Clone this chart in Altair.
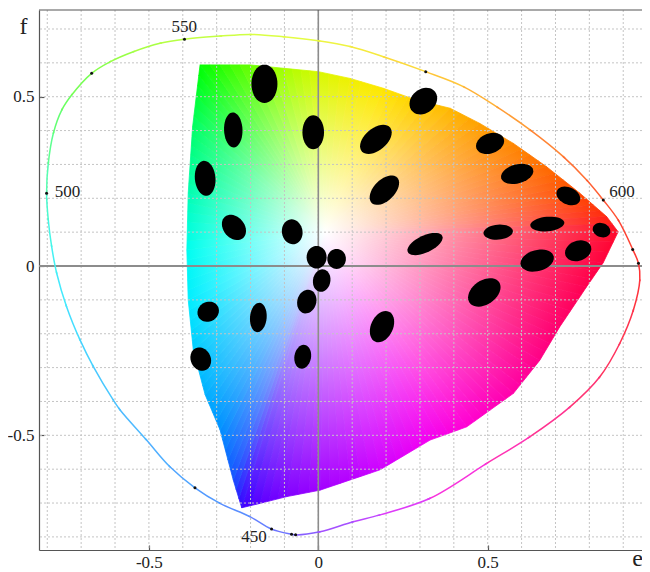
import math
import altair as alt
import pandas as pd

# ---------------- data ----------------
# colour-gamut boundary in the (e, f) plane, with the edge colour at each point
gam_e = [-0.349, -0.202, -0.103, 0.000, 0.094, 0.192, 0.290, 0.389, 0.477, 0.576,
         0.674, 0.772, 0.851, 0.885, 0.841, 0.792, 0.713, 0.654, 0.576, 0.438,
         0.330, 0.182, 0.005, -0.093, -0.172, -0.226, -0.251, -0.290, -0.334, -0.369,
         -0.384, -0.388, -0.384, -0.371]
gam_f = [0.594, 0.594, 0.584, 0.574, 0.554, 0.525, 0.490, 0.466, 0.421, 0.362,
         0.293, 0.215, 0.146, 0.101, 0.010, -0.061, -0.179, -0.278, -0.376, -0.475,
         -0.514, -0.602, -0.662, -0.681, -0.701, -0.714, -0.632, -0.484, -0.380, -0.248,
         -0.100, 0.047, 0.215, 0.411]
gam_col = ["#00ff00", "#66ff00", "#a8ff00", "#d8f800", "#f0f000", "#ffe600", "#ffd000",
           "#ffb800", "#ffa000", "#ff8800", "#ff6c00", "#ff4c00", "#ff2a10", "#ff0a2a",
           "#ff0040", "#ff0050", "#ff006c", "#ff0088", "#ff00a8", "#ff00d4", "#f400f0",
           "#d000ff", "#a000ff", "#8000ff", "#5c00ff", "#3a00ff", "#1650ff", "#0090ff",
           "#00b0ff", "#00ccff", "#00eeff", "#00fff0", "#00ffb4", "#00ff66"]
white_e, white_f = 0.02, 0.10

# spectral locus (closed by the line of purples)
loc_e = [0.005, -0.067, -0.079, -0.138, -0.202, -0.290, -0.364, -0.438, -0.507, -0.585,
         -0.605, -0.664, -0.703, -0.743, -0.772, -0.787, -0.797, -0.802, -0.797, -0.782,
         -0.757, -0.728, -0.669, -0.615, -0.546, -0.467, -0.395, -0.290, -0.202, -0.103,
         0.000, 0.094, 0.192, 0.317, 0.428, 0.527, 0.625, 0.723, 0.792, 0.841,
         0.885, 0.928, 0.945, 0.949, 0.930, 0.890, 0.831, 0.743, 0.625, 0.497,
         0.330, 0.182, 0.103]
loc_f = [-0.785, -0.794, -0.792, -0.777, -0.740, -0.701, -0.655, -0.593, -0.514, -0.425,
         -0.396, -0.297, -0.219, -0.120, -0.022, 0.057, 0.136, 0.215, 0.303, 0.392,
         0.461, 0.505, 0.569, 0.603, 0.633, 0.658, 0.670, 0.679, 0.684, 0.677,
         0.665, 0.648, 0.618, 0.574, 0.530, 0.470, 0.402, 0.323, 0.254, 0.195,
         0.136, 0.049, 0.008, -0.041, -0.130, -0.228, -0.327, -0.416, -0.504, -0.583,
         -0.686, -0.735, -0.755]
loc_col = ["#9955ff", "#7766ff", "#7070ff", "#6a78ff", "#6088ff", "#5595ff", "#50a0ff", "#50aaff",
           "#50b4ff", "#4cc0ff", "#4ac4ff", "#48ccff", "#44d8ff", "#44e4ff", "#44eef8", "#44f4ee",
           "#44f8dd", "#50fcc0", "#5cffa0", "#60ff80", "#66ff66", "#70ff5a", "#80ff50", "#90ff48",
           "#a0ff44", "#b0ff44", "#bbff44", "#c8ff44", "#d4ff44", "#e0ff44", "#eaf844", "#f2f040",
           "#f8e43c", "#ffd03a", "#ffbb38", "#ffa836", "#ff9034", "#ff7833", "#ff6633", "#ff5833",
           "#ff4a33", "#ff3c33", "#ff3333", "#ff3338", "#ff3345", "#ff3355", "#ff3366", "#ff3380",
           "#ff33a0", "#ff33c8", "#f033f0", "#cc44ff", "#b04cff"]

dot_e = [-0.067, -0.079, -0.138, -0.364, -0.802, -0.669, -0.395, 0.317, 0.841, 0.928, 0.945]
dot_f = [-0.794, -0.792, -0.777, -0.655, 0.215, 0.569, 0.670, 0.574, 0.195, 0.049, 0.008]

lab_text = ["450", "500", "550", "600"]
lab_e = [-0.190, -0.740, -0.396, 0.896]
lab_f = [-0.800, 0.218, 0.706, 0.218]

# ellipses: centre, semi-axes (data units), orientation (deg, clockwise on screen)
ell_e = [-0.159, -0.251, -0.015, -0.334, -0.249, -0.077, -0.005, 0.054, 0.010, 0.170,
         0.195, 0.315, 0.310, 0.507, 0.587, 0.738, 0.676, 0.836, 0.531, 0.767,
         0.646, 0.490, -0.325, -0.177, -0.034, 0.188, -0.347, -0.046]
ell_f = [0.538, 0.402, 0.395, 0.259, 0.114, 0.101, 0.026, 0.021, -0.043, 0.374,
         0.224, 0.065, 0.487, 0.362, 0.272, 0.207, 0.124, 0.106, 0.100, 0.045,
         0.016, -0.078, -0.135, -0.152, -0.105, -0.179, -0.275, -0.268]
ell_a = [0.0567, 0.0517, 0.0502, 0.0517, 0.0413, 0.0369, 0.0334, 0.0295, 0.0334, 0.0546,
         0.0531, 0.0561, 0.0443, 0.0428, 0.0487, 0.0369, 0.0502, 0.0266, 0.0434, 0.0398,
         0.0502, 0.0531, 0.0325, 0.0434, 0.0354, 0.0487, 0.0354, 0.0354]
ell_b = [0.0384, 0.0272, 0.0319, 0.0304, 0.0310, 0.0304, 0.0295, 0.0274, 0.0257, 0.0325,
         0.0310, 0.0251, 0.0354, 0.0295, 0.0280, 0.0251, 0.0215, 0.0207, 0.0221, 0.0295,
         0.0310, 0.0354, 0.0289, 0.0245, 0.0280, 0.0325, 0.0295, 0.0245]
ell_ang = [90, 88, 90, 85, 50, 80, 90, 90, 100, 140,
           135, 155, 140, 160, 165, 25, 175, 20, 175, 160,
           165, 145, 150, 95, 105, 115, 65, 100]

grid_e = [-0.8, -0.7, -0.6, -0.5, -0.4, -0.3, -0.2, -0.1, 0.0, 0.1, 0.2, 0.3, 0.4, 0.5, 0.6, 0.7, 0.8, 0.9]
grid_f = [-0.8, -0.7, -0.6, -0.5, -0.4, -0.3, -0.2, -0.1, 0.0, 0.1, 0.2, 0.3, 0.4, 0.5, 0.6, 0.7]
tick_vals = [-0.5, 0, 0.5]
tick_labs = ["-0.5", "0", "0.5"]

# ---------------- layout ----------------
W, H = 603, 540
E_DOM = [-0.8244, 0.9554]
F_DOM = [-0.8387, 0.7561]
SX = W / (E_DOM[1] - E_DOM[0])
SY = H / (F_DOM[1] - F_DOM[0])
xs = alt.Scale(domain=E_DOM, nice=False, zero=False)
ys = alt.Scale(domain=F_DOM, nice=False, zero=False)
SERIF = "Liberation Serif"

label_expr = " : ".join(
    f"datum.value == {v} ? '{t}'" for v, t in zip(tick_vals, tick_labs)) + " : ''"

xaxis = alt.Axis(values=tick_vals, grid=False, domainColor="#555", domainWidth=1.2,
                 tickColor="#555", tickWidth=1.2, tickSize=alt.ExprRef(expr="-5"),
                 labelPadding=9, labelFont=SERIF, labelFontSize=17, labelColor="#222",
                 labelExpr=label_expr, labelFlush=False,
                 title="e", titleFont=SERIF, titleFontSize=24, titleFontWeight="normal",
                 titleColor="#222", titleX=598, titleY=15, titleAlign="center",
                 titleBaseline="alphabetic", titleAngle=0)
yaxis = alt.Axis(values=tick_vals, grid=False, domainColor="#555", domainWidth=1.2,
                 tickColor="#555", tickWidth=1.2, tickSize=alt.ExprRef(expr="-5"),
                 labelPadding=10, labelFont=SERIF, labelFontSize=17, labelColor="#222",
                 labelExpr=label_expr,
                 title="f", titleFont=SERIF, titleFontSize=24, titleFontWeight="normal",
                 titleColor="#222", titleX=-16, titleY=23, titleAlign="center",
                 titleBaseline="alphabetic", titleAngle=0)


def X(field):
    return alt.X(field, scale=xs)


def Y(field):
    return alt.Y(field, scale=ys)


def hexrgb(h):
    return tuple(int(h[i:i + 2], 16) for i in (1, 3, 5))


def mix(c0, c1, t):
    a, b = hexrgb(c0), hexrgb(c1)
    return "#%02x%02x%02x" % tuple(int(round(p + (q - p) * t)) for p, q in zip(a, b))


# ---------------- gamut fill: fan of gradient triangles ----------------
layers = []
n = len(gam_e)
for i in range(n):
    j = (i + 1) % n
    e0, f0, e1, f1 = gam_e[i], gam_f[i], gam_e[j], gam_f[j]
    L = math.hypot((e1 - e0) * SX, (f1 - f0) * SY)
    k = max(1, int(round(L / 10)))
    for s in range(k):
        t0, t1 = s / k, (s + 1) / k
        P = (e0 + (e1 - e0) * t0, f0 + (f1 - f0) * t0)
        Q = (e0 + (e1 - e0) * t1, f0 + (f1 - f0) * t1)
        col = mix(gam_col[i], gam_col[j], (t0 + t1) / 2)
        pts = [(white_e, white_f), P, Q]
        pp = [(p[0] * SX, -p[1] * SY) for p in pts]
        mnx = min(p[0] for p in pp); mxx = max(p[0] for p in pp)
        mny = min(p[1] for p in pp); mxy = max(p[1] for p in pp)
        w = max(mxx - mnx, 1e-6); h = max(mxy - mny, 1e-6)
        c, p, q = [((x - mnx) / w, (y - mny) / h) for x, y in pp]
        dx, dy = q[0] - p[0], q[1] - p[1]
        t = ((c[0] - p[0]) * dx + (c[1] - p[1]) * dy) / (dx * dx + dy * dy)
        fx, fy = p[0] + t * dx, p[1] + t * dy
        grad = {"gradient": "linear", "x1": round(c[0], 4), "y1": round(c[1], 4),
                "x2": round(fx, 4), "y2": round(fy, 4),
                "stops": [{"offset": 0, "color": "#ffffff"}, {"offset": 1, "color": col}]}
        vals = [{"e": white_e, "f": white_f, "o": 0}, {"e": P[0], "f": P[1], "o": 1},
                {"e": Q[0], "f": Q[1], "o": 2}, {"e": white_e, "f": white_f, "o": 3}]
        layers.append(
            alt.Chart(alt.Data(values=vals)).mark_line(
                fill=grad, stroke=grad, strokeWidth=0.8, strokeJoin="round", strokeCap="round"
            ).encode(x=X("e:Q"), y=Y("f:Q"), order=alt.Order("o:Q"))
        )

# ---------------- grid, axes, zero lines ----------------
grid_x = alt.Chart(pd.DataFrame({"g": grid_e})).mark_rule(
    color="#c4c4c4", strokeWidth=1, strokeDash=[2, 2]
).encode(x=alt.X("g:Q", scale=xs, axis=xaxis))
grid_y = alt.Chart(pd.DataFrame({"g": grid_f})).mark_rule(
    color="#c4c4c4", strokeWidth=1, strokeDash=[2, 2]
).encode(y=alt.Y("g:Q", scale=ys, axis=yaxis))
zero_h = alt.Chart(pd.DataFrame({"v": [0.0]})).mark_rule(color="#8c8c8c", strokeWidth=2).encode(
    y=Y("v:Q"))
zero_v = alt.Chart(pd.DataFrame({"v": [0.0]})).mark_rule(color="#8c8c8c", strokeWidth=1.6).encode(
    x=X("v:Q"))

# ---------------- spectral locus: smooth catmull-rom pieces, one colour each ----------------
m = len(loc_e)
locus_layers = []
for i in range(m):
    idx = [(i - 1) % m, i, (i + 1) % m, (i + 2) % m]
    vals = [{"e": loc_e[q], "f": loc_f[q], "o": o} for o, q in enumerate(idx)]
    def chord(a, b):
        return math.hypot((loc_e[b] - loc_e[a]) * SX, (loc_f[b] - loc_f[a]) * SY)
    skip = max(chord(idx[0], idx[1]) - 0.6, 0)
    dash = chord(idx[1], idx[2]) * 1.04 + 1.5
    locus_layers.append(
        alt.Chart(alt.Data(values=vals)).mark_line(
            color=mix(loc_col[i], loc_col[(i + 1) % m], 0.5), strokeWidth=1.5,
            interpolate="catmull-rom", strokeCap="butt",
            strokeDash=[0, round(skip, 2), round(dash, 2), 4000]
        ).encode(x=X("e:Q"), y=Y("f:Q"), order=alt.Order("o:Q"))
    )

dots = alt.Chart(pd.DataFrame({"e": dot_e, "f": dot_f})).mark_circle(
    color="#111", size=9, opacity=1).encode(x=X("e:Q"), y=Y("f:Q"))

labels = alt.Chart(pd.DataFrame({"e": lab_e, "f": lab_f, "t": lab_text})).mark_text(
    font=SERIF, fontSize=17, color="#222", align="center", baseline="middle").encode(
    x=X("e:Q"), y=Y("f:Q"), text="t:N")


# ---------------- ellipses ----------------
def ellipse_path(r, npts=40):
    pts = []
    for kk in range(npts):
        a = 2 * math.pi * kk / npts
        pts.append(f"{math.cos(a):.3f},{r * math.sin(a):.3f}")
    return "M" + "L".join(pts) + "Z"


ell = pd.DataFrame({
    "e": ell_e, "f": ell_f, "ang": ell_ang,
    "sz": [(2 * a * SX) ** 2 for a in ell_a],
    "shp": [ellipse_path(b / a) for a, b in zip(ell_a, ell_b)],
})
ellipses = alt.Chart(ell).mark_point(filled=True, color="black", opacity=1, strokeWidth=0).encode(
    x=X("e:Q"), y=Y("f:Q"),
    shape=alt.Shape("shp:N", scale=None), size=alt.Size("sz:Q", scale=None),
    angle=alt.Angle("ang:Q", scale=None))

top_line = alt.Chart(pd.DataFrame({"v": [0]})).mark_rule(color="#555", strokeWidth=1.2).encode(
    x=alt.value(0), x2=alt.value(W), y=alt.value(0))

chart = alt.layer(
    *layers, grid_x, grid_y, zero_h, zero_v, *locus_layers, dots, labels, ellipses, top_line
).properties(
    width=W, height=H,
    autosize=alt.AutoSizeParams(type="none"),
    padding={"left": 31, "top": 2, "right": 0, "bottom": 22},
    background="white",
).configure_view(stroke=None)

chart.save("out.html", embed_options={"renderer": "svg", "actions": False})
